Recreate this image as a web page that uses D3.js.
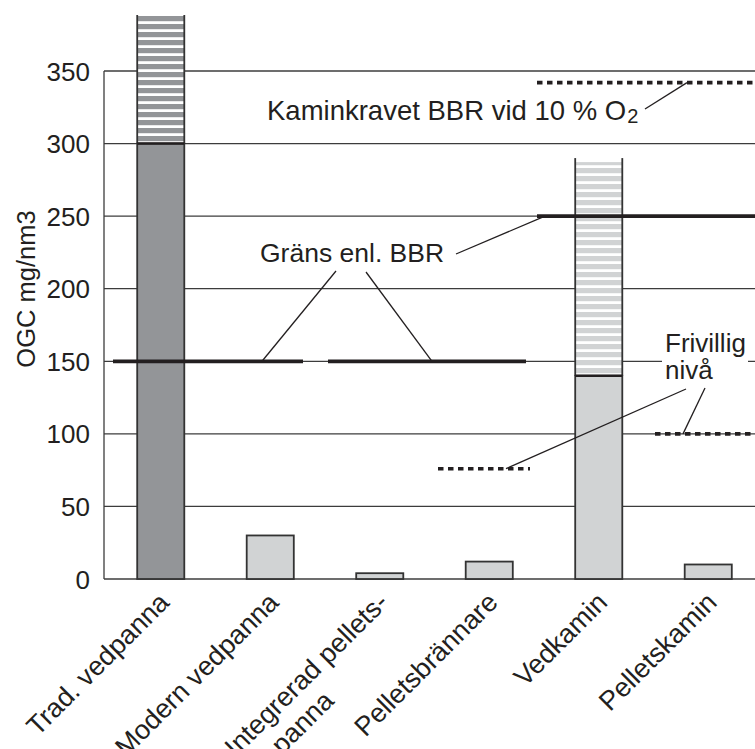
<!DOCTYPE html>
<html>
<head>
<meta charset="utf-8">
<script src="https://cdn.jsdelivr.net/npm/d3@7/dist/d3.min.js"></script>
<style>
  html, body { margin: 0; padding: 0; background: #fff; }
  svg { display: block; }
  text { font-family: "Liberation Sans", Arial, Helvetica, sans-serif; fill: #231f20; }
</style>
</head>
<body>
<svg id="chart" width="755" height="749"></svg>
<script>
// ---------------- DATA ----------------
const categories = ["Trad. vedpanna", "Modern vedpanna", "Integrerad pellets-|panna", "Pelletsbrännare", "Vedkamin", "Pelletskamin"];
const solidValues = [300, 30, 4, 12, 140, 10];          // measured / typical level (solid part)
const rangeTopValues = [400, null, null, null, 290, null]; // upper extent of spread (striped part)
const yTicks = [0, 50, 100, 150, 200, 250, 300, 350];
const yLabel = "OGC mg/nm3";

const bbrLimitLines = [
  { value: 150, cats: ["Trad. vedpanna", "Modern vedpanna"] },
  { value: 150, cats: ["Integrerad pellets-|panna", "Pelletsbrännare"] },
  { value: 250, cats: ["Vedkamin", "Pelletskamin"] }
];
const stoveRequirementLines = [
  { value: 342, cats: ["Vedkamin", "Pelletskamin"] }
];
const voluntaryLines = [
  { value: 76, cats: ["Pelletsbrännare"] },
  { value: 100, cats: ["Pelletskamin"] }
];
const labelBBR = "Gräns enl. BBR";
const labelStove = "Kaminkravet BBR vid 10 % O";
const labelStoveSub = "2";
const labelVoluntary = ["Frivillig", "nivå"];

// ---------------- LAYOUT ----------------
const W = 755, H = 749;
const axisX = 104, plotTop = 15, rightEdge = 762;
const ink = "#231f20";
const darkFill = "#939598", lightFill = "#d1d3d4";
const FS = 26;

const svg = d3.select("#chart");
svg.append("rect").attr("width", W).attr("height", H).attr("fill", "#fff");

const x = d3.scaleBand().domain(categories).range([106, 763]).paddingInner(0.57).paddingOuter(0.285);
const y = d3.scaleLinear().domain([0, 350]).range([579, 71]);
const step = x.step();
const cellStart = c => x(c) - x.paddingInner() * step / 2;
const cellEnd = c => cellStart(c) + step;

// patterns
const defs = svg.append("defs");
function stripePattern(id, color) {
  const p = defs.append("pattern").attr("id", id).attr("patternUnits", "userSpaceOnUse")
    .attr("width", 10).attr("height", 8);
  p.append("rect").attr("width", 10).attr("height", 8).attr("fill", "#fff");
  p.append("rect").attr("width", 10).attr("height", 5.2).attr("fill", color);
}
stripePattern("stripeDark", darkFill);
stripePattern("stripeLight", lightFill);
defs.append("clipPath").attr("id", "plotClip").append("rect")
  .attr("x", 0).attr("y", plotTop).attr("width", W).attr("height", H - plotTop);

// gridlines
svg.append("g").selectAll("line").data(yTicks).join("line")
  .attr("x1", axisX).attr("x2", rightEdge)
  .attr("y1", d => y(d)).attr("y2", d => y(d))
  .attr("stroke", "#3c3c3c").attr("stroke-width", 1.3);
// y axis line
svg.append("line").attr("x1", axisX).attr("x2", axisX).attr("y1", y(0)).attr("y2", y(350))
  .attr("stroke", "#3c3c3c").attr("stroke-width", 1.3);

// y tick labels via d3 axis
const yAxis = d3.axisLeft(y).tickValues(yTicks).tickSize(0).tickPadding(0);
const gy = svg.append("g").attr("transform", `translate(${axisX - 14},0)`).call(yAxis);
gy.select(".domain").remove();
gy.selectAll("text").attr("font-size", FS).attr("fill", ink)
  .style("font-family", '"Liberation Sans", Arial, sans-serif').attr("dy", "0.35em");

// y label
svg.append("text").attr("transform", `translate(35,289) rotate(-90)`)
  .attr("text-anchor", "middle").attr("font-size", 25.5).text(yLabel);

// bars
const bars = svg.append("g").attr("clip-path", "url(#plotClip)");
categories.forEach((c, i) => {
  const x0 = x(c), bw = x.bandwidth();
  const isDark = i === 0;
  const top = rangeTopValues[i];
  if (top !== null) {
    bars.append("rect").attr("x", x0).attr("width", bw)
      .attr("y", y(top) + 4).attr("height", y(solidValues[i]) - y(top) - 4)
      .attr("fill", isDark ? "url(#stripeDark)" : "url(#stripeLight)");
    [x0, x0 + bw].forEach(xx => bars.append("line")
      .attr("x1", xx).attr("x2", xx).attr("y1", y(top)).attr("y2", y(solidValues[i]))
      .attr("stroke", "#333").attr("stroke-width", 1.8));
  }
  bars.append("rect").attr("x", x0).attr("width", bw)
    .attr("y", y(solidValues[i])).attr("height", y(0) - y(solidValues[i]))
    .attr("fill", isDark ? darkFill : lightFill)
    .attr("stroke", "#333").attr("stroke-width", 1.8);
  if (top !== null) {
    bars.append("line").attr("x1", x0).attr("x2", x0 + bw)
      .attr("y1", y(solidValues[i])).attr("y2", y(solidValues[i]))
      .attr("stroke", ink).attr("stroke-width", 2.6);
  }
});

// BBR limit lines (thick)
const bbrInsets = [[7, -22], [3, -18], [-7, 10]];
bbrLimitLines.forEach((d, i) => {
  const x1 = cellStart(d.cats[0]) + bbrInsets[i][0];
  const x2 = cellEnd(d.cats[d.cats.length - 1]) + bbrInsets[i][1];
  svg.append("line").attr("x1", x1).attr("x2", x2).attr("y1", y(d.value)).attr("y2", y(d.value))
    .attr("stroke", ink).attr("stroke-width", 3.8);
});
// dotted lines
const dotted = (d, inset) => {
  const x1 = cellStart(d.cats[0]) + inset[0];
  const x2 = cellEnd(d.cats[d.cats.length - 1]) + inset[1];
  svg.append("line").attr("x1", x1).attr("x2", x2).attr("y1", y(d.value)).attr("y2", y(d.value))
    .attr("stroke", ink).attr("stroke-width", 3.6).attr("stroke-dasharray", "5.5,4.5");
};
dotted(stoveRequirementLines[0], [-7, 10]);
dotted(voluntaryLines[0], [3.5, -14]);
dotted(voluntaryLines[1], [1.5, 10]);

// annotation texts
const k = svg.append("text").attr("x", 267).attr("y", 120).attr("font-size", 27.5);
k.append("tspan").text(labelStove);
k.append("tspan").attr("font-size", 20).attr("dy", 3).attr("dx", 1).text(labelStoveSub);

svg.append("text").attr("x", 260).attr("y", 262).attr("font-size", 26.5).text(labelBBR);

svg.append("rect").attr("x", 662).attr("y", 356).attr("width", 86).attr("height", 12).attr("fill", "#fff");
svg.append("text").attr("x", 665).attr("y", 352).attr("font-size", FS).text(labelVoluntary[0]);
svg.append("text").attr("x", 665).attr("y", 379).attr("font-size", FS).text(labelVoluntary[1]);

// leader lines
const leaders = [
  [336, 271, 262, y(bbrLimitLines[0].value)],
  [366, 272, 432, y(bbrLimitLines[1].value)],
  [456, 254, 545, y(bbrLimitLines[2].value)],
  [645, 109, 687, y(stoveRequirementLines[0].value)],
  [686, 389, 506, y(voluntaryLines[0].value)],
  [705, 388, 683, y(voluntaryLines[1].value)]
];
svg.append("g").selectAll("line").data(leaders).join("line")
  .attr("x1", d => d[0]).attr("y1", d => d[1]).attr("x2", d => d[2]).attr("y2", d => d[3])
  .attr("stroke", ink).attr("stroke-width", 1.3);

// category labels
const xl = svg.append("g");
categories.forEach(c => {
  const cx = x(c) + x.bandwidth() / 2;
  const t = xl.append("text")
    .attr("transform", `translate(${cx + 10},604) rotate(-45)`)
    .attr("text-anchor", "end").attr("font-size", 27);
  const parts = c.split("|");
  t.append("tspan").attr("x", 0).attr("y", 0).text(parts[0]);
  if (parts[1]) t.append("tspan").attr("x", -108).attr("y", 31).text(parts[1]);
});
</script>
</body>
</html>
